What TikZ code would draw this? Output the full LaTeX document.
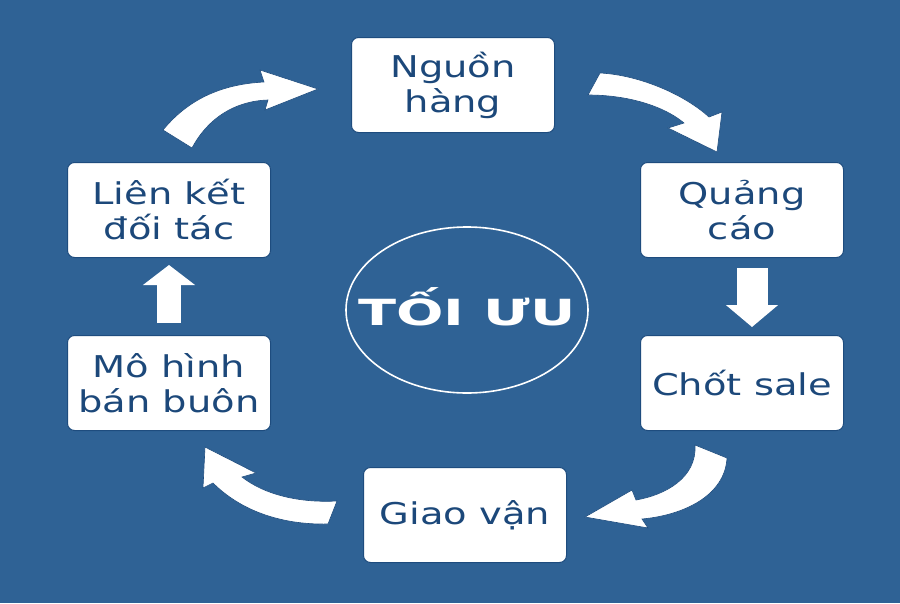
\documentclass[tikz,border=0pt]{standalone}
\usepackage{fontspec}
\setmainfont{DejaVu Sans}
\newfontfamily\boxfont[FakeStretch=1.28]{DejaVu Sans}
\newfontfamily\hubfont[FakeStretch=1.55]{DejaVu Sans}
\usetikzlibrary{shapes.geometric,arrows.meta}
\definecolor{bgblue}{RGB}{47,98,149}
\definecolor{txtblue}{RGB}{28,72,122}
\definecolor{edgeblue}{RGB}{30,76,126}
\tikzset{
  stepbox/.style={draw=edgeblue, line width=1pt, fill=white, rounded corners=7pt,
    minimum width=203pt, minimum height=95pt, align=center, text=txtblue,
    font=\boxfont\fontsize{30}{35}\selectfont},
  hub/.style={ellipse, draw=white, line width=1.6pt, minimum width=242pt, minimum height=166pt,
    inner sep=0pt},
  hubtext/.style={text=white, font=\hubfont\bfseries\fontsize{36}{40}\selectfont, yshift=3pt},
  blockarrow/.style={white, line width=#1},
  curvearrow/.style={fill=white, draw=edgeblue, line width=0.6pt}
}
\begin{document}
\begin{tikzpicture}[x=1pt,y=-1pt]
\fill[bgblue] (0,0) rectangle (900,603); %background
\useasboundingbox (0,0) rectangle (900,603);
\node[stepbox] (nguon) at (453,85) {Nguồn\\hàng};
\node[stepbox] (quangcao) at (742,210) {Quảng\\cáo};
\node[stepbox] (chot) at (742,383) {Chốt sale};
\node[stepbox] (giaovan) at (465,515) {Giao vận};
\node[stepbox] (mohinh) at (169,383) {Mô hình\\bán buôn};
\node[stepbox] (lienket) at (169,210) {Liên kết\\đối tác};
\node[hub, label={[hubtext]center:TỐI ƯU}] (toiuu) at (467,310) {};
% straight arrows
\draw[blockarrow=24pt, -{Triangle[width=51pt,length=20pt]}, shorten <=12pt, shorten >=7pt] (mohinh) -- (lienket);
\draw[blockarrow=31pt, -{Triangle[width=51pt,length=22pt]}, shorten <=10pt, shorten >=8pt] ([xshift=10pt]quangcao.south) -- ([xshift=10pt]chot.north);
% curved arrows
\filldraw[curvearrow] (163,130) .. controls (190,97) and (225,84) .. (264,82) -- (260,70) -- (318,89) -- (265,110) -- (268,100) .. controls (235,101) and (208,118) .. (192,148) -- cycle; %lienket-nguon
\filldraw[curvearrow] (600,73) .. controls (640,75) and (685,95) .. (709,117) -- (722,112) -- (717,152) -- (668,128) -- (684,123) .. controls (665,107) and (630,95) .. (588,95) -- cycle; %nguon-quangcao
\filldraw[curvearrow] (695,445) -- (727,458) .. controls (725,495) and (685,515) .. (642,519) -- (648,528) -- (585,517) -- (632,490) -- (636,500) .. controls (665,495) and (697,478) .. (695,445) -- cycle; %chot-giaovan
\filldraw[curvearrow] (205,447) -- (256,473) -- (242,477) .. controls (265,495) and (300,503) .. (337,501) -- (328,524) .. controls (280,525) and (240,510) .. (213,483) -- (203,488) -- cycle; %giaovan-mohinh
\end{tikzpicture}
\end{document}
